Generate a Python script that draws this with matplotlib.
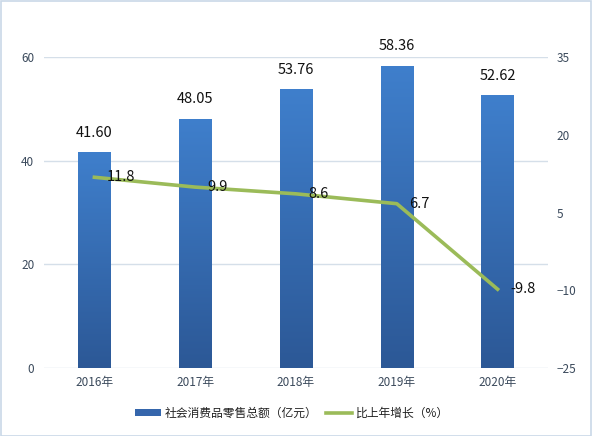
import numpy as np
import matplotlib.pyplot as plt
from matplotlib.patches import Rectangle, Patch
from matplotlib.lines import Line2D
from matplotlib.colors import LinearSegmentedColormap

plt.rcParams['font.family'] = ['Noto Sans CJK SC', 'DejaVu Sans']

years = ['2016年', '2017年', '2018年', '2019年', '2020年']
sales = [41.60, 48.05, 53.76, 58.36, 52.62]
growth = [11.8, 9.9, 8.6, 6.7, -9.8]
sales_labels = ['41.60', '48.05', '53.76', '58.36', '52.62']

fig = plt.figure(figsize=(5.92, 4.36), dpi=100)
ax = fig.add_axes([44/592, 68/436, 504/592, 311/436])
ax2 = ax.twinx()

x = np.arange(len(years))
bars = ax.bar(x, sales, width=0.32, color='none', zorder=2)
cmap = LinearSegmentedColormap.from_list('g', ['#2c5896', '#3f7fcc'])
grad = np.linspace(0, 1, 256).reshape(-1, 1)
for b in bars:
    x0, y0 = b.get_x(), b.get_y()
    im = ax.imshow(grad, cmap=cmap, origin='lower', aspect='auto',
                   extent=[x0, x0 + b.get_width(), y0, y0 + b.get_height()], zorder=2)
    im.set_clip_path(b)
for xi, v, lab in zip(x, sales, sales_labels):
    ax.annotate(lab, (xi, v), xytext=(0, 9), textcoords='offset points',
                ha='center', va='bottom', fontsize=10.5, color='#111111')

ax.set_xlim(-0.5, 4.5)
ax.set_ylim(0, 60)
ax.set_yticks([0, 20, 40, 60])
ax.set_xticks(x)
ax.set_xticklabels(years)
ax.grid(axis='y', color='#d5dfe9', lw=1)
ax.set_axisbelow(True)

ax2.plot(x, growth, color='#9bbb59', lw=2.6, zorder=3)
for xi, v in zip(x, growth):
    ax2.annotate(f'{v:.1f}', (xi, v), xytext=(9, 0), textcoords='offset points',
                 ha='left', va='center', fontsize=10.5, color='#111111')
ax2.set_ylim(-25, 35)
ax2.set_yticks([-25, -10, 5, 20, 35])

for a in (ax, ax2):
    for s in a.spines.values():
        s.set_visible(False)
    a.tick_params(length=0, labelsize=8.5, colors='#3b4a5c')
ax.tick_params(axis='y', pad=7)
ax2.tick_params(axis='y', pad=6)
ax.tick_params(axis='x', pad=6)

handles = [Patch(facecolor='#3566ac', edgecolor='none'),
           Line2D([0], [0], color='#9bbb59', lw=2.6)]
fig.legend(handles, ['社会消费品零售总额（亿元）', '比上年增长（%）'],
           loc='center', bbox_to_anchor=(0.493, 0.052), ncol=2, frameon=False,
           fontsize=8.5, handlelength=2.2, handleheight=0.5, handletextpad=0.3,
           columnspacing=0.8, labelcolor='#222222')

fig.patches.append(Rectangle((0.001, 0.001), 0.997, 0.997, transform=fig.transFigure,
                             fill=False, edgecolor='#c9d8e8', lw=1.2))

fig.savefig('out.png', dpi=100)
